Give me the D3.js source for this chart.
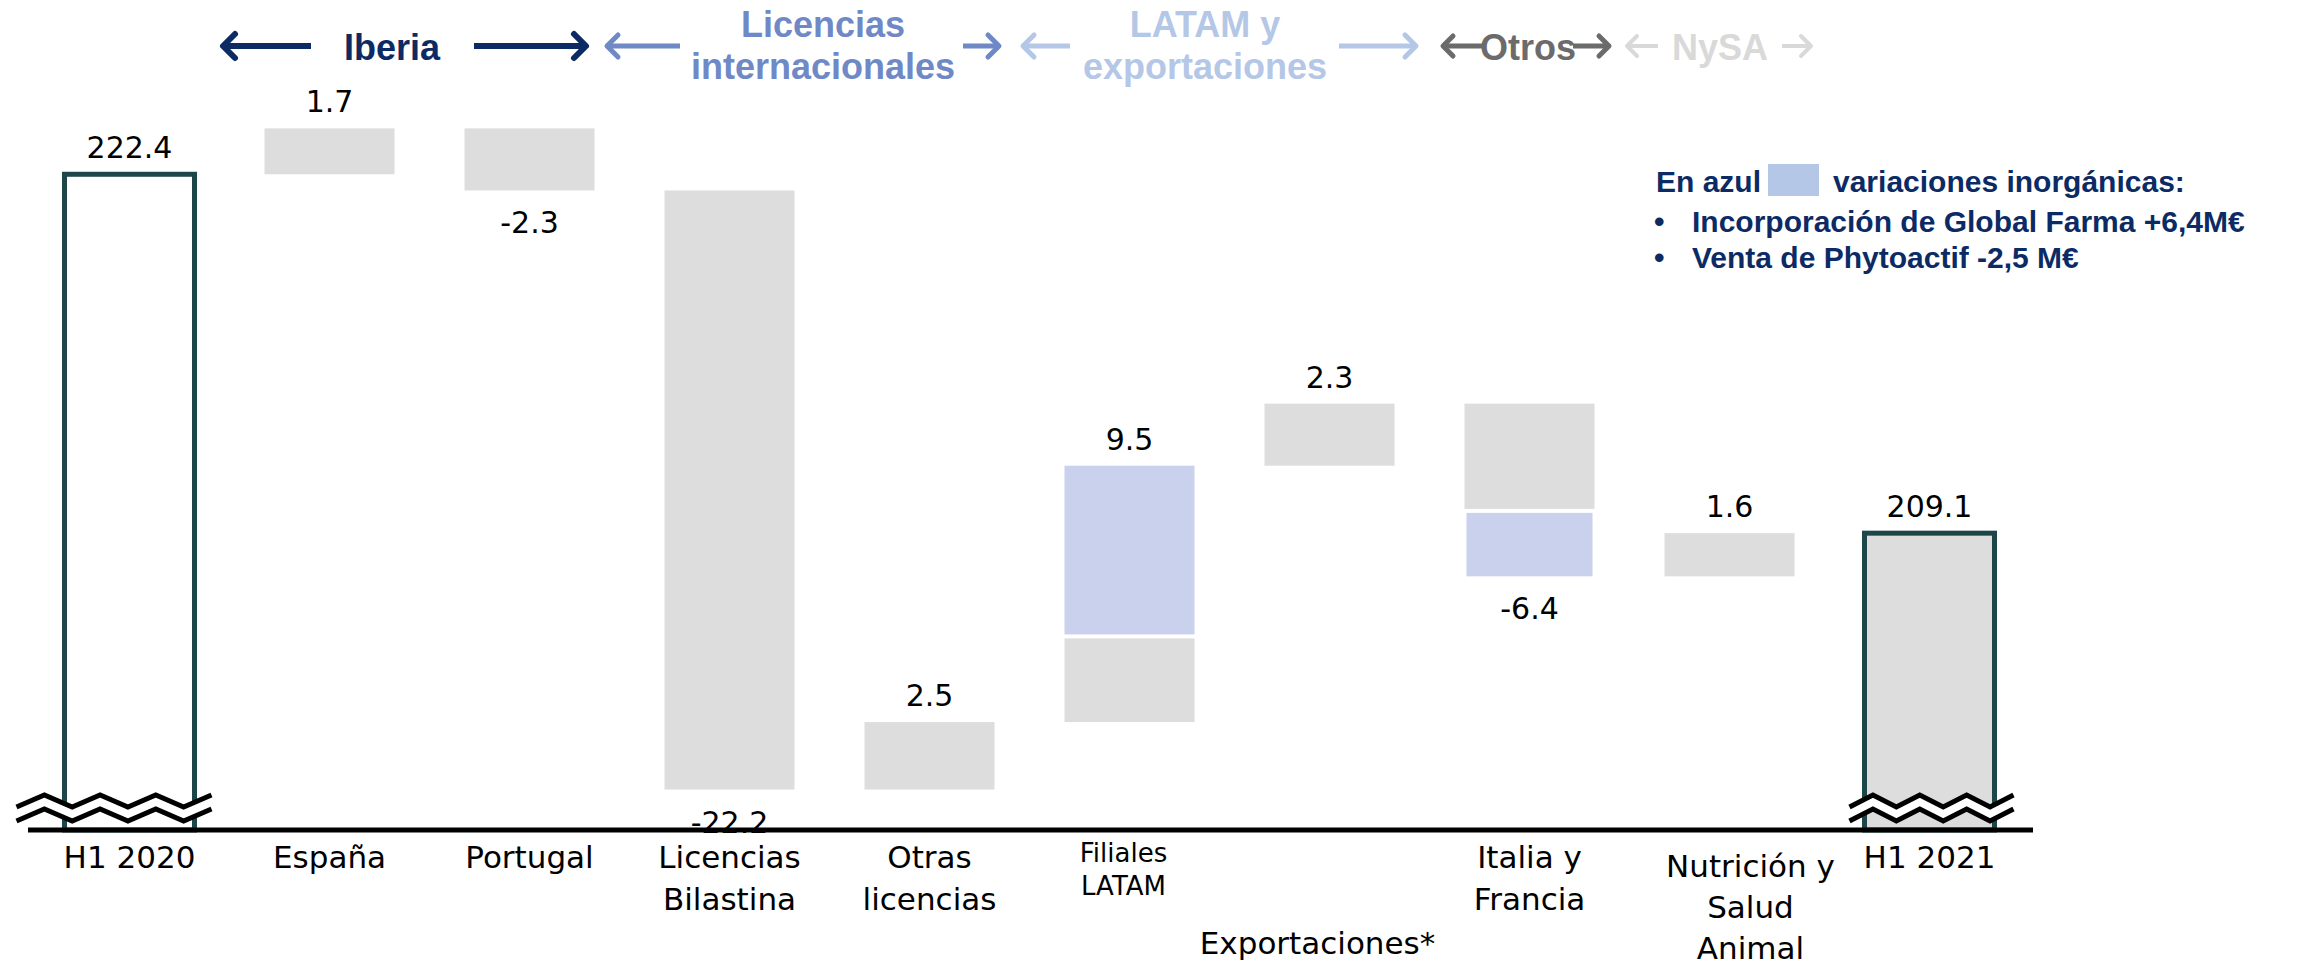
<!DOCTYPE html>
<html>
<head>
<meta charset="utf-8">
<script src="https://cdn.jsdelivr.net/npm/d3@7"></script>
<style>
  html, body { margin: 0; padding: 0; background: #fff; }
  svg { display: block; }
</style>
</head>
<body>
<div class="chart"></div>
<script>
// Data
var categories = ["H1 2020", "España", "Portugal", "Licencias Bilastina", "Otras licencias",
  "Filiales LATAM", "Exportaciones*", "Italia y Francia", "Nutrición y Salud Animal", "H1 2021"];
var labelLines = [["H1 2020"], ["España"], ["Portugal"], ["Licencias", "Bilastina"], ["Otras", "licencias"],
  ["Filiales", "LATAM"], ["Exportaciones*"], ["Italia y", "Francia"], ["Nutrición y", "Salud", "Animal"], ["H1 2021"]];
var barType = ["total", "delta", "delta", "delta", "delta", "delta", "delta", "delta", "delta", "total"];
// organic part of each variation (grey) and inorganic part (blue)
var organic = [222.4, 1.7, -2.3, -22.2, 2.5, 3.1, 2.3, -3.9, 1.6, 209.1];
var inorganic = [0, 0, 0, 0, 0, 6.4, 0, -2.5, 0, 0];
var valueLabels = ["222.4", "1.7", "-2.3", "-22.2", "2.5", "9.5", "2.3", "-6.4", "1.6", "209.1"];

var headerGroups = ["Iberia", "Licencias internacionales", "LATAM y exportaciones", "Otros", "NySA"];
var legendTitle = ["En azul", "variaciones inorgánicas:"];
var legendItems = ["Incorporación de Global Farma +6,4M€", "Venta de Phytoactif -2,5 M€"];

// broken axis: bars start from this value
var yBase = 198.1;
var yTop = 224.1;

var svgWidth = 2298;
var svgHeight = 969;

var colGrey = "#dddddd";
var colBlue = "#c9d1ec";
var colBorder = "#1d4649";
var navy = "#0c2b64";

var svg = d3.select(".chart")
  .append("svg")
  .attr("width", svgWidth)
  .attr("height", svgHeight);

var x = d3.scaleBand()
  .domain(categories)
  .range([29.5, 2029.5])
  .paddingInner(0.35)
  .paddingOuter(0.175);

var y = d3.scaleLinear()
  .domain([yBase, yTop])
  .range([830, 128.4]);

// build waterfall segments
var segments = [];
var labelPos = [];
var running = 0;
categories.forEach(function(c, i) {
  if (barType[i] == "total") {
    segments.push({cat: c, from: yBase, to: organic[i], kind: "total", idx: i});
    running = organic[i];
    labelPos.push({cat: c, y: y(organic[i]) - 16, text: valueLabels[i]});
    return;
  }
  var start = running;
  var mid = running + organic[i];
  var end = mid + inorganic[i];
  segments.push({cat: c, from: start, to: mid, kind: "organic", idx: i});
  if (inorganic[i] != 0) {
    segments.push({cat: c, from: mid, to: end, kind: "inorganic", idx: i});
  }
  running = end;
  var change = organic[i] + inorganic[i];
  if (change >= 0) {
    labelPos.push({cat: c, y: y(Math.max(start, end)) - 16, text: valueLabels[i]});
  } else {
    labelPos.push({cat: c, y: y(Math.min(start, end)) + 43, text: valueLabels[i]});
  }
});

var gap = 4;
svg.append("g").selectAll("rect")
  .data(segments)
  .enter()
  .append("rect")
  .attr("x", function(d) { return x(d.cat) + (d.kind == "inorganic" && d.to < d.from ? 2 : 0); })
  .attr("width", function(d) { return x.bandwidth() - (d.kind == "inorganic" && d.to < d.from ? 4 : 0); })
  .attr("y", function(d) {
    var top = y(Math.max(d.from, d.to));
    // leave a thin white gap where blue meets grey
    if (d.kind == "inorganic" && d.to < d.from) top += gap;
    return top;
  })
  .attr("height", function(d) {
    var h = Math.abs(y(d.from) - y(d.to));
    if (d.kind == "inorganic") h -= gap;
    return h;
  })
  .attr("fill", function(d) {
    if (d.kind == "inorganic") return colBlue;
    if (d.kind == "total") return d.idx == 0 ? "#ffffff" : colGrey;
    return colGrey;
  })
  .attr("stroke", function(d) { return d.kind == "total" ? colBorder : "none"; })
  .attr("stroke-width", 5);

// axis break marks on the total bars
var breakPad = {"H1 2020": [48, 17], "H1 2021": [15, 19]};
function zigzag(x0, x1, yMid) {
  var pts = [];
  var n = 7;
  for (var k = 0; k <= n; k++) {
    pts.push([x0 + (x1 - x0) * k / n, yMid + (k % 2 == 0 ? 6 : -6)]);
  }
  return pts;
}
var breaks = svg.append("g");
Object.keys(breakPad).forEach(function(c) {
  var x0 = x(c) - breakPad[c][0];
  var x1 = x(c) + x.bandwidth() + breakPad[c][1];
  var top = zigzag(x0, x1, y(yBase) - 29);
  var bot = zigzag(x0, x1, y(yBase) - 15);
  breaks.append("path")
    .attr("d", d3.line()(top.concat(bot.slice().reverse())) + "Z")
    .attr("fill", "#ffffff");
  [top, bot].forEach(function(p) {
    breaks.append("path")
      .attr("d", d3.line()(p))
      .attr("fill", "none")
      .attr("stroke", "#000")
      .attr("stroke-width", 5);
  });
});

// value labels
svg.append("g").selectAll("text")
  .data(labelPos)
  .enter()
  .append("text")
  .attr("x", function(d) { return x(d.cat) + x.bandwidth() / 2; })
  .attr("y", function(d) { return d.y; })
  .attr("text-anchor", "middle")
  .style("font-family", "DejaVu Sans")
  .style("font-size", "30px")
  .attr("fill", "#000")
  .text(function(d) { return d.text; });

// category labels
var catStyle = {
  "Filiales LATAM": {dx: -6, y0: 862, step: 33, size: 26},
  "Exportaciones*": {dx: -12, y0: 954, step: 42, size: 31},
  "Nutrición y Salud Animal": {dx: 21, y0: 877, step: 41, size: 31}
};
categories.forEach(function(c, i) {
  var st = catStyle[c] || {dx: 0, y0: 868, step: 42, size: 31};
  var t = svg.append("text")
    .attr("text-anchor", "middle")
    .style("font-family", "DejaVu Sans")
    .style("font-size", st.size + "px")
    .attr("fill", "#000");
  labelLines[i].forEach(function(line, k) {
    t.append("tspan")
      .attr("x", x(c) + x.bandwidth() / 2 + st.dx)
      .attr("y", st.y0 + k * st.step)
      .text(line);
  });
});

// axis line
svg.append("line")
  .attr("x1", 28).attr("x2", 2033)
  .attr("y1", y(yBase)).attr("y2", y(yBase))
  .attr("stroke", "#000")
  .attr("stroke-width", 5);

// header: business groups with arrows
function arrow(g, xFrom, xTo, yy, color, w, head) {
  var dir = xTo > xFrom ? 1 : -1;
  g.append("line")
    .attr("x1", xFrom).attr("x2", xTo - dir * 2).attr("y1", yy).attr("y2", yy)
    .attr("stroke", color).attr("stroke-width", w);
  g.append("path")
    .attr("d", "M" + (xTo - dir * head) + "," + (yy - head) + "L" + xTo + "," + yy + "L" + (xTo - dir * head) + "," + (yy + head))
    .attr("fill", "none")
    .attr("stroke", color)
    .attr("stroke-width", w)
    .attr("stroke-linecap", "round")
    .attr("stroke-linejoin", "round");
}
var hdr = svg.append("g")
  .style("font-family", "Liberation Sans")
  .style("font-weight", "bold")
  .style("font-size", "36px")
  .attr("text-anchor", "middle");

function headText(lines, cx, color) {
  var t = hdr.append("text").attr("fill", color);
  var ys = lines.length == 1 ? [60] : [37, 79];
  lines.forEach(function(l, k) {
    t.append("tspan").attr("x", cx).attr("y", ys[k]).text(l);
  });
}
headText([headerGroups[0]], 392, navy);
arrow(hdr, 311, 223, 46, navy, 6, 12);
arrow(hdr, 474, 586, 46, navy, 6, 12);

headText(["Licencias", "internacionales"], 823, "#6f89c6");
arrow(hdr, 680, 607, 46, "#6f89c6", 5, 11);
arrow(hdr, 963, 999, 46, "#6f89c6", 5, 11);

headText(["LATAM y", "exportaciones"], 1205, "#b4c7e7");
arrow(hdr, 1070, 1023, 46, "#b4c7e7", 5, 11);
arrow(hdr, 1339, 1416, 46, "#b4c7e7", 5, 11);

headText([headerGroups[3]], 1528, "#6b6b6b");
arrow(hdr, 1483, 1443, 46, "#6b6b6b", 5, 10);
arrow(hdr, 1573, 1609, 46, "#6b6b6b", 5, 10);

headText([headerGroups[4]], 1720, "#d9d9d9");
arrow(hdr, 1658, 1627, 46, "#d9d9d9", 4, 10);
arrow(hdr, 1782, 1811, 46, "#d9d9d9", 4, 10);

// legend note
var leg = svg.append("g")
  .style("font-family", "Liberation Sans")
  .style("font-weight", "bold")
  .style("font-size", "30px")
  .attr("fill", navy);
leg.append("text").attr("x", 1656).attr("y", 192).text(legendTitle[0]);
leg.append("rect").attr("x", 1768).attr("y", 164).attr("width", 51).attr("height", 32).attr("fill", "#b4c7e7");
leg.append("text").attr("x", 1833).attr("y", 192).text(legendTitle[1]);
legendItems.forEach(function(item, k) {
  leg.append("text").attr("x", 1654).attr("y", 232 + k * 36).text("•");
  leg.append("text").attr("x", 1692).attr("y", 232 + k * 36).text(item);
});
</script>
</body>
</html>
